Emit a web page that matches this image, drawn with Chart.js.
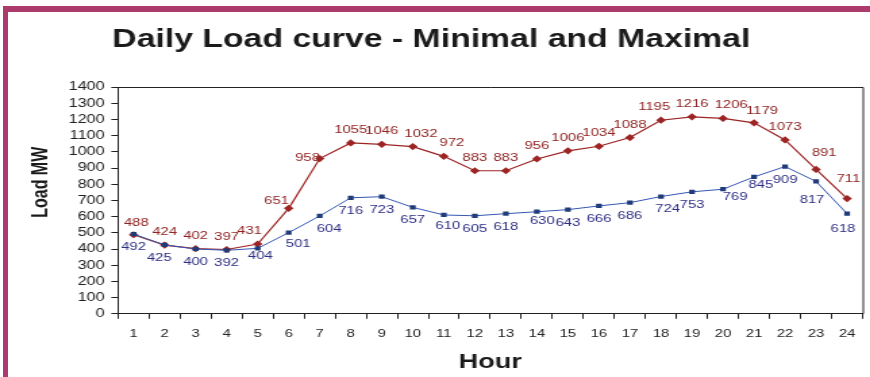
<!DOCTYPE html>
<html>
<head>
<meta charset="utf-8">
<script src="https://cdn.jsdelivr.net/npm/chart.js@4/dist/chart.umd.min.js"></script>
<style>
  html, body { margin: 0; padding: 0; background: #ffffff; }
  body { width: 870px; height: 377px; position: relative; overflow: hidden; }
  /* magenta frame along the top and left edges */
  #frame {
    position: absolute; left: 3px; top: 6px; right: 0; bottom: 0;
    border-top: 6px solid #ad3a6c; border-left: 5px solid #ad3a6c;
    z-index: 2; pointer-events: none;
  }
  /* chart is laid out narrow, then widened horizontally */
  #wrap {
    position: absolute; left: 0; top: 0;
    width: 644px; height: 377px;
    transform: scaleX(1.351); transform-origin: 0 0;
  }
</style>
</head>
<body>
<div id="frame"></div>
<div id="wrap"><canvas id="chart"></canvas></div>
<script>
// Hours of the day
const hours = ['1','2','3','4','5','6','7','8','9','10','11','12','13','14','15','16','17','18','19','20','21','22','23','24'];
// Maximal daily load, MW
const maxLoad = [488, 424, 402, 397, 431, 651, 958, 1055, 1046, 1032, 972, 883, 883, 956, 1006, 1034, 1088, 1195, 1216, 1206, 1179, 1073, 891, 711];
// Minimal daily load, MW
const minLoad = [492, 425, 400, 392, 404, 501, 604, 716, 723, 657, 610, 605, 618, 630, 643, 666, 686, 724, 753, 769, 845, 909, 817, 618];
// Y axis range and step
const yMin = 0, yMax = 1400, yStep = 100;
const yTitle = 'Load MW';

// Value-label placement: default offset from the point, plus per-hour nudges
const labelPlacement = {
  max: { dy: -13, color: '#8e2323', nudge: { 0: [2, -12], 4: [-6, -13], 5: [-9, -7], 6: [-9, -1], 9: [6, -13], 10: [6, -13], 17: [-5, -13], 19: [6, -13], 20: [6, -12], 22: [6, -16], 23: [1, -20] } },
  min: { dy: 13, color: '#2e2e84', nudge: { 1: [-4, 13], 4: [2, 8], 5: [7, 11], 6: [7, 13], 10: [3, 11], 13: [4, 9], 17: [5, 12], 19: [9, 8], 20: [5, 8], 22: [-3, 19], 23: [-3, 15] } }
};

const FONT = "'Liberation Sans', Arial, Helvetica, sans-serif";

// Draws the top and right edges of the plot box, and the vertical axis title
const plotBox = {
  id: 'plotBox',
  afterDraw(chart) {
    const { ctx, chartArea: a } = chart;
    ctx.save();
    ctx.strokeStyle = '#222';
    ctx.lineWidth = 1;
    ctx.beginPath();
    ctx.moveTo(a.left, a.top + 0.5);
    ctx.lineTo(a.right + 0.5, a.top + 0.5);
    ctx.lineTo(a.right + 0.5, a.bottom);
    ctx.stroke();
    // axis title, set a little above the middle of the axis
    ctx.translate(30.5, a.top + (a.bottom - a.top) * 0.42);
    ctx.rotate(-Math.PI / 2);
    ctx.font = 'bold 16px ' + FONT;
    ctx.fillStyle = '#1a1a1a';
    ctx.textAlign = 'center';
    ctx.textBaseline = 'middle';
    ctx.fillText(yTitle, 0, 0);
    ctx.restore();
  }
};

// Writes each point's value next to it
const valueLabels = {
  id: 'valueLabels',
  afterDatasetsDraw(chart) {
    const { ctx } = chart;
    ctx.save();
    ctx.font = '11px ' + FONT;
    ctx.textAlign = 'center';
    ctx.textBaseline = 'middle';
    chart.data.datasets.forEach((ds, di) => {
      const place = labelPlacement[ds.key];
      const meta = chart.getDatasetMeta(di);
      ctx.fillStyle = place.color;
      meta.data.forEach((pt, i) => {
        const n = place.nudge[i] || [0, place.dy];
        ctx.fillText(String(ds.data[i]), pt.x + n[0], pt.y + n[1]);
      });
    });
    ctx.restore();
  }
};

new Chart(document.getElementById('chart'), {
  type: 'line',
  data: {
    labels: hours,
    datasets: [
      {
        key: 'min', label: 'Minimal', data: minLoad,
        borderColor: '#3557b4', borderWidth: 1,
        pointStyle: 'rect', pointRadius: 3,
        pointBackgroundColor: '#1f3b78', pointBorderColor: '#1f3b78', pointBorderWidth: 0,
        tension: 0
      },
      {
        key: 'max', label: 'Maximal', data: maxLoad,
        borderColor: '#9c2424', borderWidth: 1.2,
        pointStyle: 'rectRot', pointRadius: 3.6,
        pointBackgroundColor: '#9c2424', pointBorderColor: '#9c2424', pointBorderWidth: 0,
        tension: 0
      }
    ]
  },
  options: {
    responsive: true,
    maintainAspectRatio: false,
    animation: false,
    events: [],
    layout: { padding: { top: 0, right: 5.5, bottom: 3, left: 0 } },
    plugins: {
      legend: { display: false },
      tooltip: { enabled: false },
      title: {
        display: true,
        text: 'Daily Load curve - Minimal and Maximal',
        color: '#1a1a1a',
        font: { family: FONT, size: 25, weight: 'bold', lineHeight: 1.2 },
        padding: { top: 25, bottom: 32 }
      }
    },
    scales: {
      x: {
        type: 'category',
        offset: true,
        grid: { display: true, offset: true, drawOnChartArea: false, drawTicks: true, tickLength: 5, color: '#222', lineWidth: 1 },
        border: { display: true, color: '#222', width: 1 },
        ticks: { color: '#222', font: { family: FONT, size: 11 }, padding: 9, maxRotation: 0, autoSkip: false },
        title: {
          display: true, text: 'Hour', color: '#1a1a1a',
          font: { family: FONT, size: 20, weight: 'bold', lineHeight: 1.2 },
          padding: { top: 0, bottom: 0 }
        }
      },
      y: {
        min: yMin, max: yMax,
        grid: { display: true, drawOnChartArea: false, drawTicks: true, tickLength: 5, color: '#222', lineWidth: 1 },
        border: { display: true, color: '#222', width: 1 },
        ticks: {
          stepSize: yStep, autoSkip: false, color: '#222', padding: 5,
          font: { family: FONT, size: 12 },
          callback: (v) => String(v)
        },
        afterFit(scale) { scale.width = 87.4; }
      }
    }
  },
  plugins: [plotBox, valueLabels]
});
</script>
</body>
</html>
